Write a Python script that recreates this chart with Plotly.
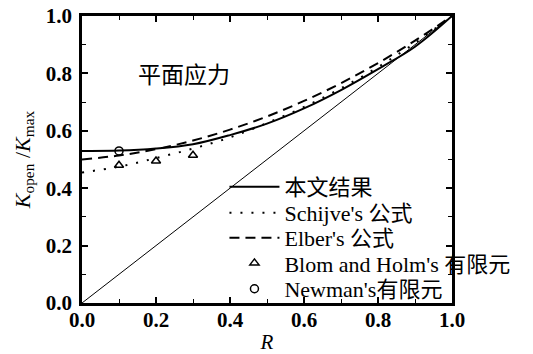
import plotly.graph_objects as go

R = [0.0, 0.1, 0.2, 0.3, 0.4, 0.5, 0.6, 0.7, 0.8, 0.9, 1.0]
present = [0.530, 0.531, 0.538, 0.553, 0.585, 0.625, 0.678, 0.742, 0.815, 0.893, 1.0]
schijve = [0.455, 0.475, 0.505, 0.538, 0.577, 0.627, 0.683, 0.748, 0.822, 0.906, 1.0]
elber = [0.500, 0.514, 0.536, 0.566, 0.604, 0.650, 0.704, 0.766, 0.836, 0.914, 1.0]
diag_R = [0.0, 1.0]
diag_v = [0.0, 1.0]
blom_R = [0.1, 0.2, 0.3]
blom_v = [0.480, 0.495, 0.515]
newman_R = [0.1]
newman_v = [0.530]

serif = "Liberation Serif"
legend_font = "Liberation Serif, Noto Sans CJK SC"

fig = go.Figure()
fig.add_trace(go.Scatter(x=diag_R, y=diag_v, mode="lines", line=dict(color="black", width=1),
                         showlegend=False, hoverinfo="skip"))
fig.add_trace(go.Scatter(x=R, y=present, mode="lines", name="本文结果", legend="legend",
                         line=dict(color="black", width=2, shape="spline")))
fig.add_trace(go.Scatter(x=R, y=schijve, mode="lines", name="Schijve's 公式", legend="legend2",
                         line=dict(color="black", width=2, dash="2px,9px", shape="spline")))
fig.add_trace(go.Scatter(x=R, y=elber, mode="lines", name="Elber's 公式", legend="legend3",
                         line=dict(color="black", width=2, dash="10px,6px", shape="spline")))
fig.add_trace(go.Scatter(x=blom_R, y=blom_v, mode="markers", name="Blom and Holm's 有限元",
                         legend="legend4",
                         marker=dict(symbol="triangle-up-open", size=8, color="black",
                                     line=dict(width=1.5, color="black"))))
fig.add_trace(go.Scatter(x=newman_R, y=newman_v, mode="markers", name="Newman's有限元",
                         legend="legend5",
                         marker=dict(symbol="circle-open", size=8, color="black",
                                     line=dict(width=1.5, color="black"))))

axis_common = dict(
    showline=True, linecolor="black", linewidth=2.5, mirror="ticks",
    ticks="inside", ticklen=6, tickwidth=1.5, tickcolor="black",
    showgrid=False, zeroline=False, automargin=False,
    tickfont=dict(family=serif, size=21, color="black", weight="bold"),
    minor=dict(ticks="inside", ticklen=4, tickwidth=1.2, tickcolor="black", dtick=0.1),
)


def leg(ypos):
    return dict(x=0.385, y=ypos, xanchor="left", yanchor="middle",
                bgcolor="rgba(0,0,0,0)", borderwidth=0,
                font=dict(family=legend_font, size=22, color="black"),
                itemwidth=50)


fig.update_layout(
    width=533, height=354,
    margin=dict(l=82, r=81, t=16, b=51),
    paper_bgcolor="white", plot_bgcolor="white",
    xaxis=dict(range=[0, 1.0], tick0=0, dtick=0.2, tickformat=".1f", ticklabelstandoff=-4,
               title=dict(text="<i>R</i>", font=dict(family=serif, size=21, color="black"), standoff=12),
               **axis_common),
    yaxis=dict(range=[0, 1.0], tick0=0, dtick=0.2, tickformat=".1f", ticklabelstandoff=3,
               title=dict(text="<i>K</i><sub>open</sub> /<i>K</i><sub>max</sub>",
                          font=dict(family=serif, size=22, color="black"), standoff=10),
               **axis_common),
    legend=leg(0.404),
    legend2=leg(0.314),
    legend3=leg(0.2265),
    legend4=leg(0.139),
    legend5=leg(0.049),
    annotations=[dict(x=0.275, y=0.803, xref="x", yref="y", text="平面应力", showarrow=False,
                      font=dict(family="Noto Sans CJK SC", size=23, color="black"))],
)

fig.write_html("out.html")
